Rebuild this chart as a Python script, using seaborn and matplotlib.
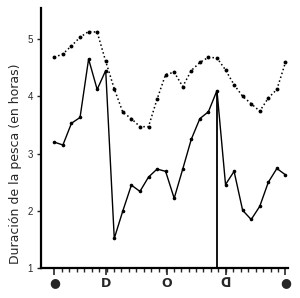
import numpy as np
import pandas as pd
import matplotlib
matplotlib.use("Agg")
import matplotlib.pyplot as plt
import seaborn as sns

# Days of the lunar cycle (one point per day)
days = list(range(28))

# Solid line: duración de la pesca (horas)
solid_vals = [3.20, 3.15, 3.53, 3.63, 4.65, 4.12, 4.45, 1.52, 2.00, 2.45,
              2.34, 2.59, 2.73, 2.69, 2.22, 2.73, 3.25, 3.61, 3.73, 4.10,
              2.46, 2.69, 2.01, 1.85, 2.08, 2.50, 2.74, 2.63]

# Dotted line
dotted_vals = [4.68, 4.74, 4.88, 5.03, 5.13, 5.12, 4.61, 4.13, 3.72, 3.61,
               3.47, 3.47, 3.95, 4.38, 4.42, 4.17, 4.45, 4.59, 4.68, 4.67,
               4.46, 4.20, 4.00, 3.87, 3.74, 3.97, 4.12, 4.59]

# Moon phase labels on the x axis
phase_pos = [0, 6.03, 13.15, 20.0, 27]
phase_labels = ["\u25CF", "D", "O", "\u15E1", "\u25CF"]

yticks = [1, 2, 3, 4, 5]
ylabel = "Duración de la pesca (en horas)"
vline_day = 19

df = pd.DataFrame({"day": days, "solid": solid_vals, "dotted": dotted_vals})

sns.set_style("ticks")
plt.rcParams["font.family"] = ["Liberation Sans", "DejaVu Sans"]

fig = plt.figure(figsize=(3.0, 2.98), dpi=100)
ax = fig.add_axes([0.137, 0.10, 0.823, 0.873])

sns.lineplot(data=df, x="day", y="solid", ax=ax, color="black", lw=1.0,
             marker="o", markersize=2.6, markeredgewidth=0, markerfacecolor="black")
sns.lineplot(data=df, x="day", y="dotted", ax=ax, color="black", lw=1.1,
             linestyle=":", marker="o", markersize=2.8, markeredgewidth=0,
             markerfacecolor="black")

ax.vlines(vline_day, 1.0, solid_vals[days.index(vline_day)], color="black", lw=1.3)

ax.set_xlim(-1.55, 27.3)
ax.set_ylim(1.0, 5.54)
ax.set_yticks(yticks)
ax.set_yticklabels([str(v) for v in yticks], fontsize=7)
ax.tick_params(axis="y", length=3, width=1, pad=3)

ax.set_xticks(phase_pos)
ax.set_xticklabels(phase_labels, fontsize=9, fontweight="bold",
                   family=["DejaVu Sans"])
ax.set_xticks(np.linspace(0, 27, 32), minor=True)
ax.tick_params(axis="x", which="major", length=5, width=1.2, pad=1)
ax.tick_params(axis="x", which="minor", length=3, width=1)

ax.set_xlabel("")
ax.set_ylabel(ylabel, fontsize=9, family=["DejaVu Sans"])
ax.yaxis.set_label_coords(-0.077, 0.40)

sns.despine(ax=ax)
for s in ["left", "bottom"]:
    ax.spines[s].set_linewidth(1.6)
    ax.spines[s].set_color("black")

fig.savefig("out.png", dpi=100)
